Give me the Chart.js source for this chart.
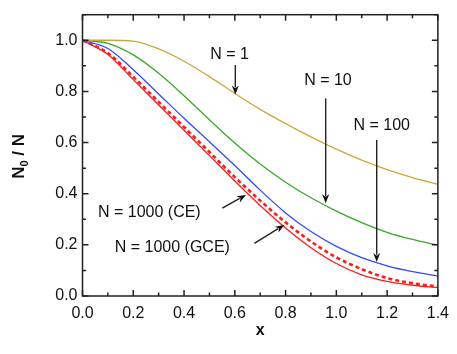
<!DOCTYPE html>
<html>
<head>
<meta charset="utf-8">
<script src="https://cdn.jsdelivr.net/npm/chart.js@4/dist/chart.umd.min.js"></script>
<style>
    html, body { margin: 0; padding: 0; background: #fff; }
    #wrap { width: 457px; height: 354px; position: relative; }
</style>
</head>
<body>
<div id="wrap"><canvas id="chart"></canvas></div>
<script>
// ── Data ──────────────────────────────────────────────────────────────────────
const X_VALUES   = [0, 0.1, 0.2, 0.3, 0.4, 0.5, 0.6, 0.7, 0.8, 0.9, 1.0, 1.1, 1.2, 1.3, 1.4];
const N_1        = [1.0, 1.0, 0.997, 0.966, 0.918, 0.858, 0.792, 0.73, 0.674, 0.622, 0.574, 0.531, 0.494, 0.463, 0.437];
const N_10       = [1.0, 0.988, 0.943, 0.871, 0.783, 0.689, 0.598, 0.516, 0.445, 0.384, 0.332, 0.287, 0.249, 0.221, 0.199];
const N_100      = [1.0, 0.968, 0.885, 0.79, 0.695, 0.603, 0.51, 0.414, 0.325, 0.252, 0.194, 0.15, 0.118, 0.095, 0.078];
const N_1000_CE  = [1.0, 0.95, 0.857, 0.759, 0.661, 0.563, 0.465, 0.373, 0.288, 0.213, 0.151, 0.105, 0.07, 0.05, 0.037];
const N_1000_GCE = [1.0, 0.944, 0.846, 0.747, 0.648, 0.549, 0.45, 0.354, 0.266, 0.189, 0.127, 0.083, 0.057, 0.042, 0.033];

const X_TICKS = [0, 0.2, 0.4, 0.6, 0.8, 1.0, 1.2, 1.4];
const Y_TICKS = [0, 0.2, 0.4, 0.6, 0.8, 1.0];

// Annotation labels + arrows, in data units
const NOTES = [
    { text: 'N = 1',          tx: 0.579, ty: 0.927, align: 'center', from: [0.602, 0.903], to: [0.602, 0.788] },
    { text: 'N = 10',         tx: 0.967, ty: 0.825, align: 'center', from: [0.958, 0.773], to: [0.958, 0.363] },
    { text: 'N = 100',        tx: 1.179, ty: 0.649, align: 'center', from: [1.159, 0.610], to: [1.159, 0.133] },
    { text: 'N = 1000 (CE)',  tx: 0.061, ty: 0.309, align: 'left',   from: [0.551, 0.344], to: [0.644, 0.395] },
    { text: 'N = 1000 (GCE)', tx: 0.127, ty: 0.172, align: 'left',   from: [0.677, 0.206], to: [0.795, 0.278] },
];

const FONT = '"Liberation Sans", Arial, sans-serif';
const INK  = '#222';

const pts = (ys) => ys.map((y, i) => ({ x: X_VALUES[i], y }));

// ── Axis box, inward ticks, titles, annotations ─────────────────────────────
const framePlugin = {
    id: 'frame',
    afterDatasetsDraw(chart) {
        const { ctx, chartArea: a, scales: { x, y } } = chart;
        ctx.save();
        ctx.strokeStyle = INK;
        ctx.lineWidth = 1.5;
        ctx.strokeRect(a.left, a.top, a.right - a.left, a.bottom - a.top);

        ctx.beginPath();
        for (let i = 0; i <= 14; i++) {
            const px = x.getPixelForValue(i / 10);
            const len = i % 2 === 0 ? 6 : 3.5;
            ctx.moveTo(px, a.bottom); ctx.lineTo(px, a.bottom - len);
            ctx.moveTo(px, a.top);    ctx.lineTo(px, a.top + len);
        }
        for (let i = 0; i <= 11; i++) {
            const py = y.getPixelForValue(i / 10);
            const len = i % 2 === 0 ? 6 : 3.5;
            ctx.moveTo(a.left, py);  ctx.lineTo(a.left + len, py);
            ctx.moveTo(a.right, py); ctx.lineTo(a.right - len, py);
        }
        ctx.stroke();

        // annotations
        ctx.fillStyle = '#111';
        ctx.font = '16px ' + FONT;
        ctx.textBaseline = 'alphabetic';
        NOTES.forEach(n => {
            ctx.textAlign = n.align;
            ctx.fillText(n.text, x.getPixelForValue(n.tx), y.getPixelForValue(n.ty));
            const x0 = x.getPixelForValue(n.from[0]), y0 = y.getPixelForValue(n.from[1]);
            const x1 = x.getPixelForValue(n.to[0]),   y1 = y.getPixelForValue(n.to[1]);
            const ang = Math.atan2(y1 - y0, x1 - x0);
            const hl = 9, hw = 3.5;
            ctx.strokeStyle = '#222';
            ctx.lineWidth = 1.4;
            ctx.beginPath();
            ctx.moveTo(x0, y0);
            ctx.lineTo(x1 - Math.cos(ang) * hl * 0.8, y1 - Math.sin(ang) * hl * 0.8);
            ctx.stroke();
            ctx.beginPath();
            ctx.moveTo(x1, y1);
            ctx.lineTo(x1 - Math.cos(ang) * hl - Math.sin(ang) * hw, y1 - Math.sin(ang) * hl + Math.cos(ang) * hw);
            ctx.lineTo(x1 - Math.cos(ang) * hl * 0.7, y1 - Math.sin(ang) * hl * 0.7);
            ctx.lineTo(x1 - Math.cos(ang) * hl + Math.sin(ang) * hw, y1 - Math.sin(ang) * hl - Math.cos(ang) * hw);
            ctx.closePath();
            ctx.fill();
        });

        // x title
        ctx.fillStyle = '#111';
        ctx.font = 'bold 16px ' + FONT;
        ctx.textAlign = 'center';
        ctx.textBaseline = 'middle';
        ctx.fillText('x', (a.left + a.right) / 2, 331);

        // y title: N0 / N with subscript, rotated
        ctx.translate(18, (a.top + a.bottom) / 2 + 1);
        ctx.rotate(-Math.PI / 2);
        ctx.textAlign = 'left';
        ctx.textBaseline = 'alphabetic';
        const big = 'bold 17px ' + FONT, small = 'bold 11px ' + FONT;
        ctx.font = big;   const wN = ctx.measureText('N').width;
        ctx.font = small; const w0 = ctx.measureText('0').width;
        ctx.font = big;   const wR = ctx.measureText(' / N').width;
        let cx = -(wN + w0 + wR) / 2;
        const base = 6;
        ctx.font = big;   ctx.fillText('N', cx, base); cx += wN;
        ctx.font = small; ctx.fillText('0', cx, base + 4); cx += w0;
        ctx.font = big;   ctx.fillText(' / N', cx, base);
        ctx.restore();
    },
};

const line = (label, data, color, width, dash) => ({
    label, data: pts(data), borderColor: color, borderWidth: width, borderDash: dash || [],
    pointRadius: 0, fill: false, cubicInterpolationMode: 'monotone',
});

new Chart(document.getElementById('chart'), {
    type: 'line',
    data: {
        datasets: [
            line('N = 1', N_1, '#c8aa3c', 1.3),
            line('N = 10', N_10, '#3aa82a', 1.3),
            line('N = 100', N_100, '#3448ff', 1.3),
            line('N = 1000 (GCE)', N_1000_GCE, '#ff1c1c', 1.3),
            line('N = 1000 (CE)', N_1000_CE, '#ff1c1c', 2.6, [4, 3]),
        ],
    },
    options: {
        responsive: true,
        maintainAspectRatio: false,
        animation: false,
        layout: { padding: { top: 14.7, right: 17.7, left: 0, bottom: 0 } },
        plugins: { legend: { display: false }, tooltip: { enabled: false } },
        scales: {
            x: {
                type: 'linear', min: 0, max: 1.4,
                afterFit: (s) => { s.height = 354 - 296; },
                afterBuildTicks: (s) => { s.ticks = X_TICKS.map(v => ({ value: v })); },
                grid: { display: false, drawTicks: false },
                border: { display: false },
                ticks: { padding: 8, color: '#111', font: { size: 16, family: FONT }, callback: (v) => Number(v).toFixed(1) },
            },
            y: {
                type: 'linear', min: 0, max: 1.1,
                afterFit: (s) => { s.width = 82.5; },
                afterBuildTicks: (s) => { s.ticks = Y_TICKS.map(v => ({ value: v })); },
                grid: { display: false, drawTicks: false },
                border: { display: false },
                ticks: { padding: 5, color: '#111', font: { size: 16, family: FONT }, callback: (v) => Number(v).toFixed(1) },
            },
        },
    },
    plugins: [framePlugin],
});
</script>
</body>
</html>
